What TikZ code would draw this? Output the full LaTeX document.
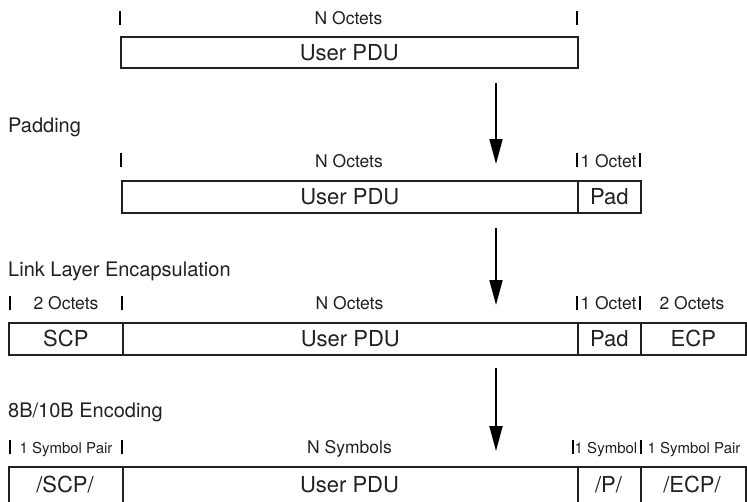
\documentclass[tikz,border=0pt]{standalone}
\usepackage{fontspec}
\setmainfont{TeX Gyre Heros}
\usetikzlibrary{arrows.meta}
\definecolor{ink}{gray}{0.13}
\tikzset{
  cell/.style={draw=ink, line width=1.7pt, inner sep=0pt, anchor=north west,
    text=ink, font=\fontsize{22}{22}\selectfont},
  celltext/.style={text=ink, font=\fontsize{22}{22}\selectfont, inner sep=0pt, anchor=base},
  lab/.style={text=ink, font=\fontsize{17.5}{18}\selectfont, inner sep=0pt, anchor=base},
  slab/.style={text=ink, font=\fontsize{15}{15}\selectfont, inner sep=0pt, anchor=base},
  head/.style={text=ink, font=\fontsize{20}{20}\selectfont, anchor=base west, inner sep=0pt},
  tick/.style={line width=2.8pt},
  flow/.style={line width=1.8pt, -{Triangle[width=13pt,length=25pt]}}
}
\begin{document}
\begin{tikzpicture}[x=1pt,y=-1pt]
\clip (0,0) rectangle (747,501);
\fill[white] (0,0) rectangle (747,501);

% ---------- Row 1 ----------
\draw[tick] (120,11) -- (120,25);
\draw[tick] (577,11) -- (577,25);
\node[lab] (r1lab) at (348.5,24) {N Octets};
\node[cell, minimum width=457pt, minimum height=31pt] (r1pdu) at (120,36) {User PDU};

\coordinate (a1s) at (496,83);
\coordinate (a1e) at (496,164);
\draw[flow] (a1s) -- (a1e);

\node[head] (hpad) at (8,132) {Padding};

% ---------- Row 2 ----------
\draw[tick] (121,153) -- (121,167);
\draw[tick] (577,153) -- (577,167);
\draw[tick] (640,153) -- (640,167);
\node[lab] (r2lab1) at (349,167) {N Octets};
\node[lab] (r2lab2) at (608.5,167) {1 Octet};
\node[cell, minimum width=456pt, minimum height=32pt] (r2pdu) at (121,180) {User PDU};
\node[cell, minimum width=63pt, minimum height=32pt] (r2pad) at (577,180) {Pad};

\coordinate (a2s) at (496,228);
\coordinate (a2e) at (496,305);
\draw[flow] (a2s) -- (a2e);

\node[head] (hlink) at (8,276) {Link Layer Encapsulation};

% ---------- Row 3 ----------
\draw[tick] (10,296) -- (10,310);
\draw[tick] (122,296) -- (122,310);
\draw[tick] (577,296) -- (577,310);
\draw[tick] (640,296) -- (640,310);
\node[lab] (r3lab1) at (66,309) {2 Octets};
\node[lab] (r3lab2) at (349.5,309) {N Octets};
\node[lab] (r3lab3) at (608.5,309) {1 Octet};
\node[lab] (r3lab4) at (692,309) {2 Octets};
\node[cell, minimum width=114pt, minimum height=32pt] (r3scp) at (8,322) {SCP};
\node[cell, minimum width=455pt, minimum height=32pt] (r3pdu) at (122,322) {User PDU};
\node[cell, minimum width=63pt, minimum height=32pt] (r3pad) at (577,322) {Pad};
\node[cell, minimum width=105pt, minimum height=32pt] (r3ecp) at (640,322) {ECP};

\coordinate (a3s) at (496,368);
\coordinate (a3e) at (496,451);
\draw[flow] (a3s) -- (a3e);

\node[head] (henc) at (8,417) {8B/10B Encoding};

% ---------- Row 4 ----------
\draw[tick] (10,440) -- (10,454);
\draw[tick] (122,440) -- (122,454);
\draw[tick] (573,440) -- (573,454);
\draw[tick] (641,440) -- (641,454);
\node[slab] (r4lab1) at (66,453) {1 Symbol Pair};
\node[lab] (r4lab2) at (349.5,453) {N Symbols};
\node[slab] (r4lab3) at (606,453) {1 Symbol};
\node[slab] (r4lab4) at (694,453) {1 Symbol Pair};
\node[cell, minimum width=114pt, minimum height=42pt] (r4scp) at (8,466) {};
\node[cell, minimum width=455pt, minimum height=42pt] (r4pdu) at (122,466) {};
\node[cell, minimum width=63pt, minimum height=42pt] (r4p) at (577,466) {};
\node[cell, minimum width=105pt, minimum height=42pt] (r4ecp) at (640,466) {};
\node[celltext] (t4scp) at (65,492) {/SCP/};
\node[celltext] (t4pdu) at (349.5,492) {User PDU};
\node[celltext] (t4p) at (608.5,492) {/P/};
\node[celltext] (t4ecp) at (692,492) {/ECP/};
\end{tikzpicture}
\end{document}
